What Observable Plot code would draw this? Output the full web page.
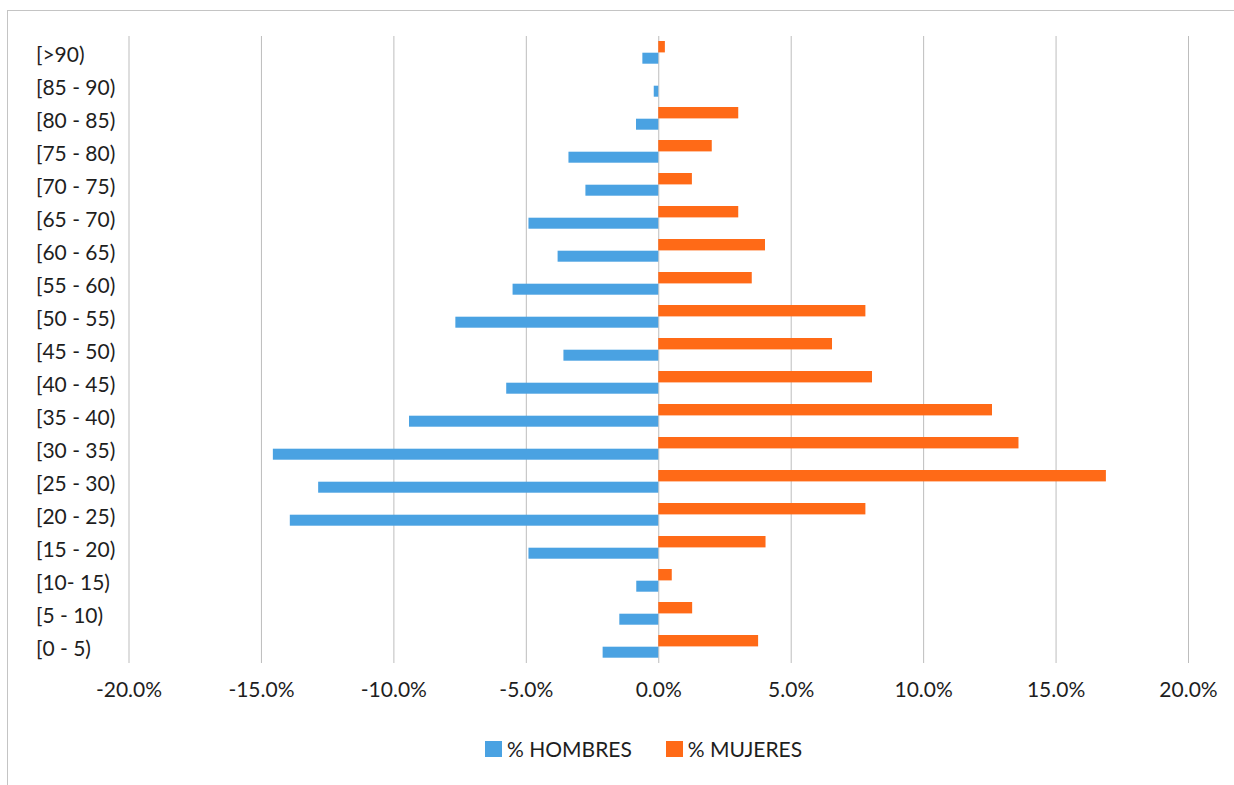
<!DOCTYPE html>
<html>
<head>
<meta charset="utf-8">
<script src="https://cdn.jsdelivr.net/npm/d3@7"></script>
<script src="https://cdn.jsdelivr.net/npm/@observablehq/plot@0.6"></script>
<style>
  html, body { margin: 0; padding: 0; background: #fff; }
  body { width: 1234px; height: 785px; position: relative; overflow: hidden; font-family: Lato, "Open Sans", sans-serif; }
  #frame { position: absolute; left: 7px; top: 10px; width: 1300px; height: 800px; border-top: 1px solid #c4c4c4; border-left: 1px solid #c4c4c4; }
  #chart { position: absolute; left: 0; top: 0; }
  #legend { position: absolute; left: 485px; top: 736px; display: flex; align-items: center; font-size: 21px; color: #1e1e1e; }
  .sw { display: inline-block; width: 17px; height: 16px; margin-right: 5px; }
  .item { display: flex; align-items: center; margin-right: 34px; }
</style>
</head>
<body>
<div id="frame"></div>
<div id="chart"></div>
<div id="legend"></div>
<script>
const categories = ["[>90)", "[85 - 90)", "[80 - 85)", "[75 - 80)", "[70 - 75)", "[65 - 70)", "[60 - 65)", "[55 - 60)", "[50 - 55)", "[45 - 50)", "[40 - 45)", "[35 - 40)", "[30 - 35)", "[25 - 30)", "[20 - 25)", "[15 - 20)", "[10- 15)", "[5 - 10)", "[0 - 5)"];
const hombres = [-0.6, -0.17, -0.84, -3.39, -2.75, -4.9, -3.8, -5.5, -7.66, -3.58, -5.74, -9.41, -14.55, -12.84, -13.91, -4.9, -0.83, -1.47, -2.1];
const mujeres = [0.25, 0, 3.02, 2.02, 1.27, 3.02, 4.03, 3.53, 7.82, 6.56, 8.07, 12.6, 13.6, 16.9, 7.82, 4.05, 0.51, 1.28, 3.77];
const xTicks = [-20, -15, -10, -5, 0, 5, 10, 15, 20];
const seriesNames = ["% HOMBRES", "% MUJERES"];
const seriesColors = ["#4aa2e2", "#ff6a17"];

const dataH = categories.map((c, i) => ({cat: c, v: hombres[i]}));
const dataM = categories.map((c, i) => ({cat: c, v: mujeres[i]}));

const fmt = d => d.toFixed(1) + "%";

const chart = Plot.plot({
  width: 1234,
  height: 720,
  marginLeft: 128.5,
  marginRight: 46,
  marginTop: 36,
  marginBottom: 57,
  style: {fontFamily: "Lato, 'Open Sans', sans-serif", fontSize: "21px", color: "#1e1e1e", background: "transparent"},
  x: {domain: [-20, 20], ticks: xTicks, tickFormat: fmt, label: null},
  y: {domain: categories, padding: 0, label: null},
  marks: [
    Plot.gridX(xTicks, {stroke: "#bdbdbd", strokeOpacity: 1}),
    Plot.barX(dataM, {x: "v", y: "cat", fill: seriesColors[1], insetTop: 5, insetBottom: 16.6}),
    Plot.barX(dataH, {x: "v", y: "cat", fill: seriesColors[0], insetTop: 16.7, insetBottom: 5.3}),
    Plot.axisX({ticks: xTicks, tickFormat: fmt, tickSize: 0, tickPadding: 19, fill: "#1e1e1e", fontSize: 21, label: null}),
    Plot.axisY({tickSize: 0, tickPadding: 0, textAnchor: "start", dx: -93, dy: 2, fill: "#1e1e1e", fontSize: 21, label: null})
  ]
});
document.getElementById("chart").appendChild(chart);

const legend = document.getElementById("legend");
seriesNames.forEach((name, i) => {
  const item = document.createElement("div");
  item.className = "item";
  const sw = document.createElement("span");
  sw.className = "sw";
  sw.style.background = seriesColors[i];
  item.appendChild(sw);
  item.appendChild(document.createTextNode(name));
  legend.appendChild(item);
});
</script>
</body>
</html>
